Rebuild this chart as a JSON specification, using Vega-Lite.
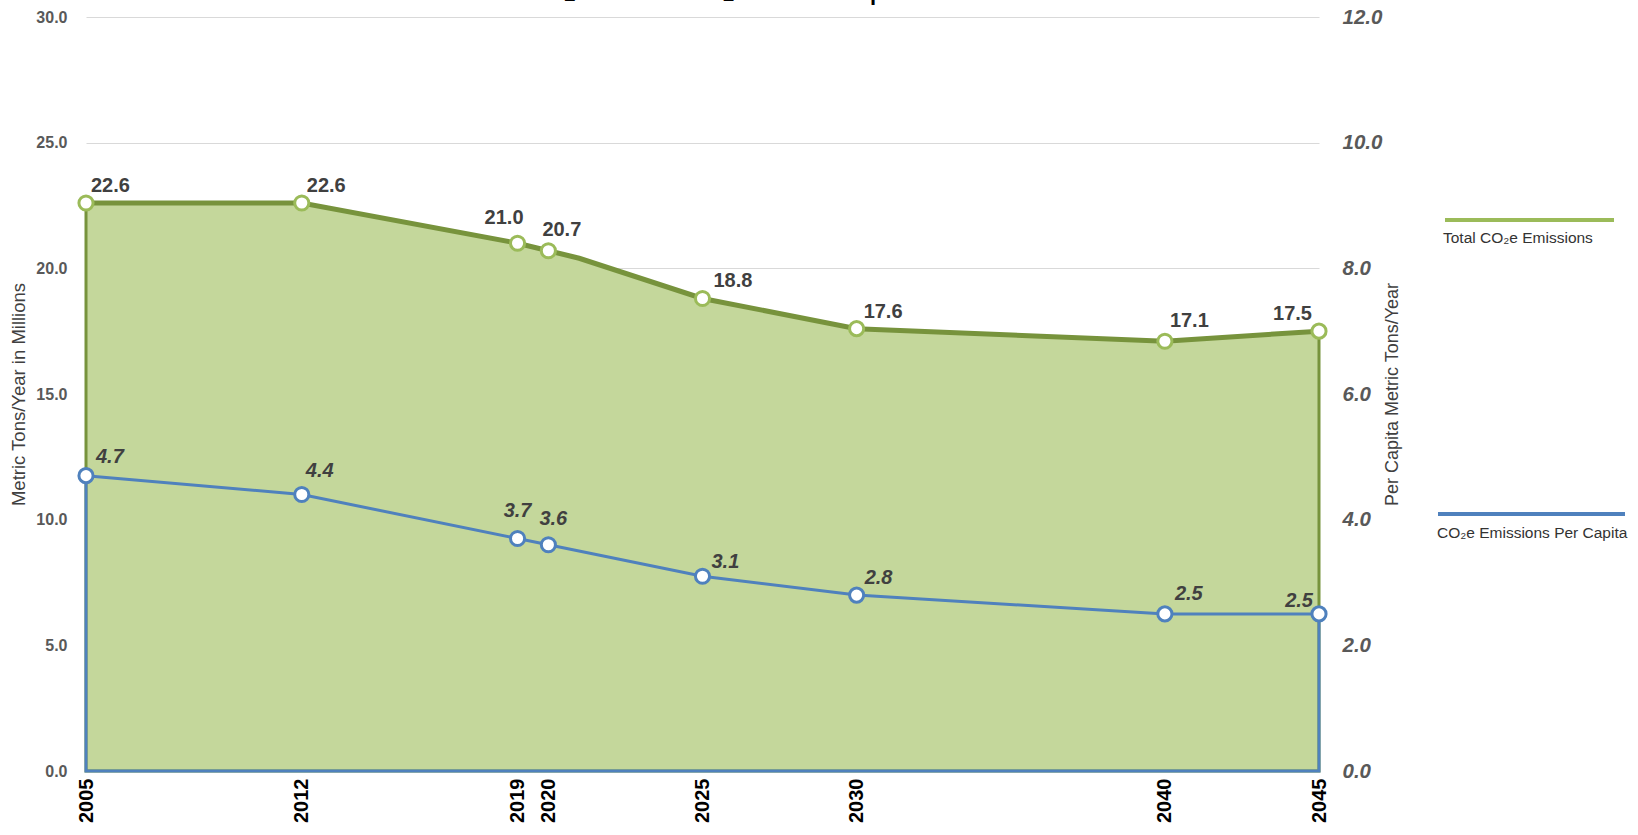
{
  "$schema": "https://vega.github.io/schema/vega-lite/v6.json",
  "width": 1233,
  "height": 754,
  "autosize": {"type": "none"},
  "padding": {"left": 86, "top": 17, "right": 319, "bottom": 64},
  "background": "white",
  "config": {"view": {"stroke": null}, "font": "Liberation Sans"},
  "title": {
    "text": "Total CO₂e and CO₂e Per Capita",
    "anchor": "start",
    "frame": "group",
    "dx": 345,
    "offset": -25,
    "baseline": "alphabetic",
    "fontSize": 34,
    "font": "Liberation Sans",
    "fontWeight": "normal",
    "color": "#000000"
  },
  "datasets": {
    "total": [
      {"year": 2005, "value": 22.6},
      {"year": 2012, "value": 22.6},
      {"year": 2019, "value": 21.0},
      {"year": 2020, "value": 20.7},
      {"year": 2021, "value": 20.4},
      {"year": 2025, "value": 18.8},
      {"year": 2030, "value": 17.6},
      {"year": 2040, "value": 17.1},
      {"year": 2045, "value": 17.5}
    ],
    "percap": [
      {"year": 2005, "value": 4.7},
      {"year": 2012, "value": 4.4},
      {"year": 2019, "value": 3.7},
      {"year": 2020, "value": 3.6},
      {"year": 2025, "value": 3.1},
      {"year": 2030, "value": 2.8},
      {"year": 2040, "value": 2.5},
      {"year": 2045, "value": 2.5}
    ]
  },
  "encoding": {
    "x": {
      "field": "year",
      "type": "quantitative",
      "scale": {"domain": [2005, 2045], "nice": false, "zero": false},
      "axis": {
        "values": [2005, 2012, 2019, 2020, 2025, 2030, 2040, 2045],
        "format": "d",
        "labelAngle": -90,
        "labelFont": "Liberation Sans",
        "labelFontSize": 20,
        "labelFontWeight": "bold",
        "labelColor": "#000000",
        "labelPadding": 7,
        "labelOverlap": false,
        "labelFlush": false,
        "domain": false,
        "ticks": false,
        "grid": false,
        "title": null
      }
    }
  },
  "layer": [
    {
      "data": {"name": "total"},
      "encoding": {
        "y": {
          "field": "value",
          "type": "quantitative",
          "scale": {"domain": [0, 30], "nice": false},
          "axis": {
            "orient": "left",
            "values": [0, 5, 10, 15, 20, 25, 30],
            "format": ".1f",
            "grid": true,
            "gridColor": "#d9d9d9",
            "gridWidth": 1,
            "domain": false,
            "ticks": false,
            "labelPadding": 19,
            "labelFont": "Liberation Sans",
            "labelFontSize": 16,
            "labelFontWeight": "bold",
            "labelColor": "#595959",
            "title": "Metric Tons/Year in Millions",
            "titleFont": "Liberation Sans",
            "titleFontSize": 18.5,
            "titleFontWeight": "normal",
            "titleColor": "#404040",
            "titleX": -68,
            "titleY": 377,
            "titleAngle": -90,
            "titleAlign": "center",
            "titleBaseline": "middle"
          }
        }
      },
      "layer": [
        {"mark": {"type": "area", "fill": "#c4d79b", "stroke": "#77933c", "strokeWidth": 3, "opacity": 1}},
        {"mark": {"type": "line", "color": "#77933c", "strokeWidth": 5}},
        {
          "transform": [{"filter": "datum.year != 2021"}],
          "mark": {"type": "point", "filled": false, "fill": "white", "size": 200, "strokeWidth": 3, "opacity": 1},
          "encoding": {
            "color": {
              "datum": "Total CO₂e Emissions",
              "type": "nominal",
              "scale": {"range": ["#9bbb59"]},
              "legend": {
                "orient": "none",
                "legendX": 1357,
                "legendY": 134.5,
                "title": null,
                "padding": 0,
                "symbolType": "M -1 -0.213 L 1 -0.213",
                "symbolSize": 28561,
                "symbolStrokeWidth": 4,
                "symbolOpacity": 1,
                "labelOffset": -173,
                "labelLimit": 400,
                "labelFont": "Liberation Sans",
                "labelFontSize": 15.5,
                "labelColor": "#333333"
              }
            }
          }
        },
        {
          "transform": [{"filter": "datum.year != 2021"}],
          "mark": {
            "type": "text",
            "font": "Liberation Sans",
            "fontSize": 20,
            "fontWeight": "bold",
            "color": "#404040",
            "baseline": "middle",
            "align": {"expr": "datum.year == 2019 || datum.year == 2045 ? 'right' : 'left'"},
            "dx": {"expr": "datum.year == 2019 ? 6 : datum.year == 2045 ? -7 : datum.year == 2020 ? -6 : datum.year == 2025 ? 11 : datum.year == 2030 ? 7 : 5"},
            "dy": {"expr": "datum.year == 2019 ? -25 : datum.year == 2020 ? -21 : datum.year == 2040 ? -20 : -17"}
          },
          "encoding": {"text": {"field": "value", "type": "quantitative", "format": ".1f"}}
        }
      ]
    },
    {
      "data": {"name": "percap"},
      "encoding": {
        "y": {
          "field": "value",
          "type": "quantitative",
          "scale": {"domain": [0, 12], "nice": false},
          "axis": {
            "orient": "right",
            "values": [0, 2, 4, 6, 8, 10, 12],
            "format": ".1f",
            "grid": false,
            "domain": false,
            "ticks": false,
            "labelPadding": 23,
            "labelFont": "Liberation Sans",
            "labelFontSize": 20.5,
            "labelFontStyle": "italic",
            "labelFontWeight": "bold",
            "labelColor": "#595959",
            "title": "Per Capita Metric Tons/Year",
            "titleFont": "Liberation Sans Narrow, Liberation Sans",
            "titleFontSize": 18,
            "titleFontWeight": "normal",
            "titleColor": "#404040",
            "titleX": 73,
            "titleY": 377,
            "titleAngle": -90,
            "titleAlign": "center",
            "titleBaseline": "middle"
          }
        }
      },
      "layer": [
        {"mark": {"type": "area", "fill": "transparent", "stroke": "#4f81bd", "strokeWidth": 3, "opacity": 1}},
        {
          "mark": {"type": "point", "filled": false, "fill": "white", "size": 200, "strokeWidth": 3, "opacity": 1},
          "encoding": {
            "color": {
              "datum": "CO₂e Emissions Per Capita",
              "type": "nominal",
              "scale": {"range": ["#4f81bd"]},
              "legend": {
                "orient": "none",
                "legendX": 1350,
                "legendY": 420.5,
                "title": null,
                "padding": 0,
                "symbolType": "M -1 -0.203 L 1 -0.203",
                "symbolSize": 34969,
                "symbolStrokeWidth": 4,
                "symbolOpacity": 1,
                "labelOffset": -190,
                "labelLimit": 400,
                "labelFont": "Liberation Sans",
                "labelFontSize": 15.5,
                "labelColor": "#333333"
              }
            }
          }
        },
        {
          "mark": {
            "type": "text",
            "font": "Liberation Sans",
            "fontSize": 20,
            "fontWeight": "bold",
            "fontStyle": "italic",
            "color": "#404040",
            "baseline": "middle",
            "align": {"expr": "datum.year == 2045 ? 'right' : datum.year == 2019 ? 'center' : 'left'"},
            "dx": {"expr": "datum.year == 2005 ? 10 : datum.year == 2012 ? 4 : datum.year == 2019 ? 0 : datum.year == 2020 ? -9 : datum.year == 2025 ? 9 : datum.year == 2030 ? 8 : datum.year == 2040 ? 10 : -6"},
            "dy": {"expr": "datum.year == 2005 ? -19 : datum.year == 2012 ? -24 : datum.year == 2019 ? -28 : datum.year == 2020 ? -26 : datum.year == 2025 ? -14 : datum.year == 2030 ? -17 : datum.year == 2040 ? -20 : -13"}
          },
          "encoding": {"text": {"field": "value", "type": "quantitative", "format": ".1f"}}
        }
      ]
    }
  ],
  "resolve": {"scale": {"y": "independent", "color": "independent"}}
}
